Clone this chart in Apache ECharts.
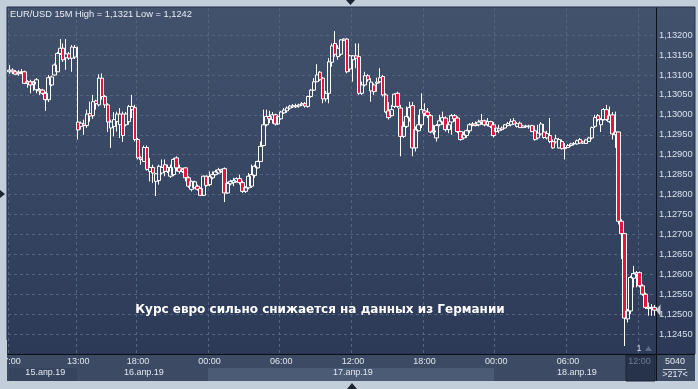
<!DOCTYPE html>
<html><head><meta charset="utf-8">
<script src="https://cdn.jsdelivr.net/npm/echarts/dist/echarts.min.js"></script>
<style>html,body{margin:0;padding:0;background:#c3cedb}#c{width:698px;height:389px}</style>
</head><body><div id="c"></div>
<script>
// ---- data ----
const daySegments = [['2019-04-15','07:00',23],['2019-04-16','13:00',44],['2019-04-17','00:00',96],['2019-04-18','00:00',54]];
const tickTimes = ['2019-04-15 07:00','2019-04-16 13:00','2019-04-16 18:00','2019-04-17 00:00','2019-04-17 06:00','2019-04-17 12:00','2019-04-17 18:00','2019-04-18 00:00','2019-04-18 06:00','2019-04-18 12:00'];
const currentBarTime = '2019-04-18 12:00';
const dateLabelTimes = ['2019-04-15 10:00','2019-04-16 18:30','2019-04-17 12:00','2019-04-18 06:45'];
const dateLabels = ['15.апр.19','16.апр.19','17.апр.19','18.апр.19'];
const priceTickTop = 1.1320;
const symbolName = 'EUR/USD 15M';
const barsInfo = ['5040', '>217<'];

const opens = [
1.13108,1.13112,1.13108,1.13103,1.13106,1.13108,1.13079,1.13083,1.13077,1.13063,
1.13063,1.13062,1.13054,1.13038,1.13075,1.13100,1.13108,1.13154,1.13167,1.13143,
1.13153,1.13142,1.13145,1.12982,1.12971,1.12977,1.12973,1.13003,1.12998,1.13035,
1.13025,1.13092,1.13046,1.13025,1.12967,1.12971,1.12983,1.12975,1.13002,1.12975,
1.12983,1.13013,1.13018,1.12938,1.12892,1.12883,1.12918,1.12858,1.12868,1.12833,
1.12835,1.12854,1.12875,1.12858,1.12846,1.12850,1.12892,1.12867,1.12858,1.12867,
1.12842,1.12813,1.12817,1.12821,1.12815,1.12798,1.12846,1.12825,1.12842,1.12850,
1.12854,1.12858,1.12865,1.12804,1.12827,1.12830,1.12833,1.12840,1.12830,1.12808,
1.12817,1.12821,1.12848,1.12867,1.12883,1.12923,1.12975,1.12996,1.12988,1.13000,
1.12977,1.12990,1.13005,1.13010,1.13017,1.13020,1.13023,1.13022,1.13025,1.13028,
1.13021,1.13046,1.13062,1.13083,1.13107,1.13092,1.13040,1.13054,1.13132,1.13179,
1.13146,1.13152,1.13187,1.13190,1.13115,1.13138,1.13148,1.13146,1.13054,1.13075,
1.13098,1.13060,1.13075,1.13079,1.13083,1.13096,1.13050,1.13010,1.12998,1.13021,
1.13054,1.13017,1.12946,1.12971,1.12992,1.13023,1.12917,1.12960,1.12975,1.13010,
1.13007,1.12998,1.12957,1.12942,1.12975,1.12982,1.12992,1.12963,1.12982,1.12998,
1.12992,1.12958,1.12942,1.12948,1.12960,1.12975,1.12977,1.12975,1.12982,1.12985,
1.12975,1.12983,1.12975,1.12958,1.12960,1.12967,1.12967,1.12973,1.12975,1.12985,
1.12971,1.12979,1.12968,1.12972,1.12970,1.12973,1.12960,1.12942,1.12952,1.12957,
1.12942,1.12948,1.12933,1.12932,1.12917,1.12933,1.12915,1.12918,1.12923,1.12927,
1.12927,1.12938,1.12929,1.12928,1.12933,1.12942,1.12971,1.12998,1.12975,1.12988,
1.13013,1.12983,1.13000,1.12950,1.12957,1.12733,1.12702,1.12488,1.12508,1.12590,
1.12600,1.12604,1.12571,1.12550,1.12517,1.12515,1.12517];

const closes = [
1.13112,1.13108,1.13102,1.13106,1.13108,1.13079,1.13083,1.13075,1.13082,1.13088,
1.13060,1.13054,1.13038,1.13093,1.13095,1.13125,1.13154,1.13167,1.13138,1.13153,
1.13142,1.13170,1.13169,1.12962,1.12979,1.12973,1.13002,1.12997,1.13033,1.13028,
1.13092,1.13046,1.13025,1.12982,1.12982,1.12988,1.13002,1.13002,1.12948,1.13002,
1.13021,1.13021,1.12938,1.12892,1.12888,1.12918,1.12863,1.12868,1.12854,1.12852,
1.12871,1.12868,1.12858,1.12868,1.12868,1.12888,1.12867,1.12858,1.12863,1.12842,
1.12821,1.12833,1.12832,1.12813,1.12798,1.12846,1.12823,1.12845,1.12850,1.12857,
1.12862,1.12862,1.12804,1.12828,1.12833,1.12835,1.12840,1.12830,1.12808,1.12817,
1.12846,1.12850,1.12871,1.12883,1.12921,1.12975,1.12996,1.12990,1.13000,1.12977,
1.12996,1.13007,1.13012,1.13017,1.13022,1.13023,1.13020,1.13025,1.13028,1.13022,
1.13046,1.13062,1.13083,1.13100,1.13088,1.13040,1.13054,1.13133,1.13173,1.13152,
1.13167,1.13188,1.13190,1.13108,1.13148,1.13148,1.13142,1.13054,1.13075,1.13098,
1.13088,1.13082,1.13058,1.13082,1.13093,1.13050,1.13007,1.12993,1.13013,1.13052,
1.13021,1.12946,1.12971,1.12996,1.13018,1.12917,1.12963,1.12975,1.13013,1.13004,
1.12998,1.12957,1.12960,1.12973,1.12985,1.12993,1.12963,1.12975,1.12998,1.12990,
1.12958,1.12938,1.12950,1.12960,1.12975,1.12977,1.12973,1.12982,1.12985,1.12975,
1.12983,1.12971,1.12948,1.12967,1.12965,1.12963,1.12975,1.12978,1.12983,1.12977,
1.12978,1.12968,1.12972,1.12970,1.12972,1.12958,1.12938,1.12954,1.12977,1.12943,
1.12953,1.12933,1.12917,1.12940,1.12938,1.12915,1.12918,1.12923,1.12927,1.12928,
1.12935,1.12929,1.12932,1.12937,1.12942,1.12968,1.12993,1.12988,1.12988,1.13013,
1.12988,1.12998,1.12952,1.12957,1.12733,1.12702,1.12490,1.12508,1.12592,1.12602,
1.12604,1.12571,1.12550,1.12517,1.12514,1.12517,1.12510];

const lows = [
1.13103,1.13102,1.13100,1.13098,1.13102,1.13077,1.13068,1.13054,1.13060,1.13054,
1.13050,1.13050,1.13010,1.13032,1.13072,1.13098,1.13107,1.13150,1.13133,1.13113,
1.13138,1.13108,1.13140,1.12938,1.12963,1.12950,1.12967,1.12983,1.12990,1.13013,
1.13021,1.13038,1.13017,1.12957,1.12917,1.12946,1.12958,1.12942,1.12932,1.12971,
1.12975,1.12992,1.12933,1.12888,1.12875,1.12882,1.12860,1.12833,1.12829,1.12796,
1.12825,1.12850,1.12846,1.12854,1.12842,1.12846,1.12858,1.12852,1.12854,1.12833,
1.12817,1.12808,1.12815,1.12810,1.12796,1.12796,1.12820,1.12821,1.12838,1.12848,
1.12852,1.12855,1.12781,1.12802,1.12823,1.12821,1.12830,1.12825,1.12804,1.12804,
1.12813,1.12817,1.12842,1.12865,1.12882,1.12921,1.12971,1.12979,1.12978,1.12973,
1.12975,1.12988,1.13002,1.13005,1.13013,1.13017,1.13017,1.13018,1.13022,1.13018,
1.13018,1.13043,1.13060,1.13082,1.13085,1.13029,1.13033,1.13029,1.13121,1.13146,
1.13138,1.13148,1.13185,1.13104,1.13108,1.13083,1.13117,1.13050,1.13050,1.13071,
1.13083,1.13033,1.13050,1.13058,1.13079,1.13046,1.13004,1.12988,1.12996,1.13017,
1.13017,1.12896,1.12942,1.12967,1.12983,1.12896,1.12908,1.12958,1.12967,1.12996,
1.12992,1.12954,1.12950,1.12933,1.12971,1.12975,1.12958,1.12954,1.12950,1.12983,
1.12954,1.12935,1.12938,1.12942,1.12954,1.12971,1.12971,1.12971,1.12975,1.12971,
1.12971,1.12967,1.12943,1.12950,1.12954,1.12960,1.12965,1.12971,1.12971,1.12975,
1.12968,1.12967,1.12967,1.12967,1.12965,1.12957,1.12935,1.12938,1.12948,1.12940,
1.12938,1.12929,1.12915,1.12928,1.12915,1.12913,1.12888,1.12917,1.12920,1.12923,
1.12925,1.12927,1.12927,1.12927,1.12932,1.12938,1.12967,1.12983,1.12957,1.12985,
1.12985,1.12979,1.12938,1.12917,1.12725,1.12638,1.12420,1.12479,1.12500,1.12567,
1.12567,1.12567,1.12546,1.12513,1.12496,1.12496,1.12496];

const highs = [
1.13125,1.13117,1.13112,1.13112,1.13115,1.13111,1.13087,1.13088,1.13085,1.13092,
1.13067,1.13065,1.13058,1.13100,1.13098,1.13129,1.13158,1.13190,1.13179,1.13190,
1.13158,1.13175,1.13175,1.13171,1.12983,1.12988,1.13013,1.13033,1.13050,1.13038,
1.13102,1.13104,1.13050,1.13029,1.12988,1.13007,1.13008,1.13017,1.13008,1.13007,
1.13025,1.13050,1.13025,1.12942,1.12896,1.12923,1.12923,1.12892,1.12875,1.12854,
1.12875,1.12888,1.12888,1.12875,1.12875,1.12892,1.12896,1.12875,1.12867,1.12868,
1.12846,1.12835,1.12835,1.12825,1.12818,1.12848,1.12848,1.12858,1.12858,1.12862,
1.12867,1.12865,1.12868,1.12832,1.12837,1.12842,1.12843,1.12850,1.12835,1.12821,
1.12854,1.12875,1.12875,1.12885,1.12933,1.13013,1.13013,1.13010,1.13007,1.13003,
1.13000,1.13010,1.13017,1.13021,1.13025,1.13027,1.13028,1.13028,1.13032,1.13032,
1.13048,1.13065,1.13092,1.13127,1.13110,1.13095,1.13060,1.13142,1.13179,1.13210,
1.13175,1.13190,1.13192,1.13192,1.13150,1.13150,1.13179,1.13179,1.13083,1.13108,
1.13102,1.13092,1.13079,1.13093,1.13117,1.13100,1.13054,1.13032,1.13025,1.13054,
1.13058,1.13025,1.12983,1.13021,1.13033,1.13032,1.12971,1.13000,1.13054,1.13029,
1.13017,1.13002,1.12975,1.12977,1.13000,1.13008,1.12996,1.12983,1.13002,1.13002,
1.12996,1.12960,1.12958,1.12963,1.12979,1.12982,1.12983,1.12988,1.13002,1.12988,
1.12992,1.12985,1.12982,1.12975,1.12975,1.12971,1.12977,1.12982,1.12990,1.12992,
1.12982,1.12983,1.12975,1.12975,1.12975,1.12975,1.12973,1.12975,1.12982,1.12977,
1.12960,1.12992,1.12938,1.12950,1.12942,1.12938,1.12929,1.12927,1.12930,1.12932,
1.12938,1.12942,1.12935,1.12940,1.12945,1.12971,1.13000,1.13002,1.12992,1.13017,
1.13025,1.13021,1.13007,1.13008,1.12958,1.12738,1.12704,1.12513,1.12596,1.12621,
1.12608,1.12607,1.12575,1.12554,1.12529,1.12525,1.12523];

const annotation = 'Курс евро сильно снижается на данных из Германии';

// ---- build ----
const categories = [];
daySegments.forEach(([d, t, n]) => {
  const [h, m] = t.split(':').map(Number);
  for (let k = 0; k < n; k++) {
    const mins = h * 60 + m + 15 * k;
    categories.push(d + ' ' + String(Math.floor(mins / 60)).padStart(2, '0') + ':' + String(mins % 60).padStart(2, '0'));
  }
});
const ohlc = categories.map((_, i) => [opens[i], closes[i], lows[i], highs[i]]);
const comma = (v, d) => v.toFixed(d).replace('.', ',');
const lastClose = closes[closes.length - 1];
const titleText = symbolName + ' High = ' + comma(Math.max(...highs), 4) + ' Low = ' + comma(Math.min(...lows), 4);

const Y_MIN = 1.1240, Y_MAX = 1.13268, Y_STEP = 0.0005;
const FONT = '"Liberation Sans", Arial, sans-serif';
const TXT = '#e0e7f0';
const GRIDC = '#55647d';
// one colour per horizontal grid line: visible up to the top labelled tick, hidden above it
const hLineColors = [];
for (let v = Y_MIN; v <= Y_MAX + 1e-9; v += Y_STEP) hLineColors.push(v <= priceTickTop + 1e-7 ? GRIDC : 'rgba(0,0,0,0)');
hLineColors.push('rgba(0,0,0,0)');

const chart = echarts.init(document.getElementById('c'), null, {renderer: 'canvas'});

function graphics(priceY) {
  const g = [
    {type: 'rect', z: -20, silent: true, shape: {x: 0, y: 0, width: 698, height: 389}, style: {fill: '#c3cedb'}},
    {type: 'rect', z: -10, silent: true, shape: {x: 7, y: 7, width: 688, height: 347},
      style: {fill: new echarts.graphic.LinearGradient(0, 0, 0, 1, [{offset: 0, color: '#42526d'}, {offset: 1, color: '#2c3a57'}]), stroke: '#26314a', lineWidth: 1}},
    {type: 'rect', z: -10, silent: true, shape: {x: 7, y: 354, width: 688, height: 27}, style: {fill: '#3d4a63'}},
    {type: 'rect', z: -9, silent: true, shape: {x: 9, y: 368, width: 68, height: 13}, style: {fill: '#37445d'}},
    {type: 'rect', z: -9, silent: true, shape: {x: 208, y: 368, width: 286, height: 13}, style: {fill: '#4b5a75'}},
    {type: 'rect', z: -9, silent: true, shape: {x: 626, y: 355, width: 29, height: 26}, style: {fill: '#27334b', stroke: '#1c2536', lineWidth: 1}},
    {type: 'line', z: 5, silent: true, shape: {x1: 656.5, y1: 354, x2: 656.5, y2: 381}, style: {stroke: '#0c1018', lineWidth: 1}},
    {type: 'line', z: 5, silent: true, shape: {x1: 656, y1: 354.5, x2: 695, y2: 354.5}, style: {stroke: '#0c1018', lineWidth: 1}},
    {type: 'line', z: 5, silent: true, shape: {x1: 663, y1: 369.5, x2: 686, y2: 369.5}, style: {stroke: '#c8d0dc', lineWidth: 1}},
    {type: 'text', z: 5, silent: true, style: {text: barsInfo[0], x: 675, y: 362, textAlign: 'center', textVerticalAlign: 'middle', align: 'center', verticalAlign: 'middle', fill: TXT, font: '9px ' + FONT}},
    {type: 'text', z: 5, silent: true, style: {text: barsInfo[1], x: 675, y: 375, textAlign: 'center', textVerticalAlign: 'middle', align: 'center', verticalAlign: 'middle', fill: TXT, font: '9px ' + FONT}},
    {type: 'text', z: 5, silent: true, style: {text: titleText, x: 10, y: 14, textVerticalAlign: 'middle', verticalAlign: 'middle', fill: '#e8edf4', font: '9.3px ' + FONT}},
    {type: 'text', z: 5, silent: true, style: {text: annotation, x: 320, y: 310, textAlign: 'center', textVerticalAlign: 'middle', align: 'center', verticalAlign: 'middle', fill: '#ffffff', font: 'bold 12px "DejaVu Sans", sans-serif'}},
    {type: 'text', z: 5, silent: true, style: {text: '1', x: 639, y: 349, textAlign: 'center', textVerticalAlign: 'middle', align: 'center', verticalAlign: 'middle', fill: '#d5dbe5', font: '9px ' + FONT}},
    {type: 'polygon', z: 5, silent: true, shape: {points: [[645, 351], [652, 351], [648.5, 346]]}, style: {fill: '#5d6c86'}},
    {type: 'rect', z: 50, silent: true, shape: {x: 0, y: 340, width: 7, height: 49}, style: {fill: '#c3cedb'}},
    {type: 'polygon', z: 50, silent: true, shape: {points: [[346, 0], [355, 0], [350.5, 5]]}, style: {fill: '#1b2232'}},
    {type: 'polygon', z: 50, silent: true, shape: {points: [[347, 389], [357, 389], [352, 383]]}, style: {fill: '#1b2232'}},
    {type: 'polygon', z: 50, silent: true, shape: {points: [[0, 190], [0, 198], [5, 194]]}, style: {fill: '#1b2232'}}
  ];
  if (priceY != null) {
    g.push({type: 'polygon', z: 60, silent: true, shape: {points: [[656, priceY], [660.5, priceY - 6], [660.5, priceY + 6]]}, style: {fill: '#cbd3de'}});
  }
  return g;
}

const option = {
  backgroundColor: '#c3cedb',
  animation: false,
  grid: {left: 8, right: 42, top: 8, bottom: 35, containLabel: false, outerBoundsMode: 'none'},
  xAxis: [{
    type: 'category', data: categories, boundaryGap: true,
    axisLine: {show: true, lineStyle: {color: '#0c1018', width: 1}},
    axisTick: {show: false},
    axisLabel: {
      interval: (i, v) => tickTimes.includes(v),
      formatter: (v) => v === currentBarTime ? '{dim|' + v.slice(11) + '}' : v.slice(11),
      color: TXT, fontSize: 9, fontFamily: FONT, margin: 3, hideOverlap: false,
      rich: {dim: {color: '#6e7b92', fontSize: 9, fontFamily: FONT}}
    },
    splitLine: {show: true, interval: (i, v) => tickTimes.includes(v), lineStyle: {color: GRIDC, type: [3, 3], width: 1}}
  }, {
    type: 'category', data: categories, boundaryGap: true, position: 'bottom', offset: 11,
    axisLine: {show: false}, axisTick: {show: false}, splitLine: {show: false},
    axisLabel: {
      interval: (i, v) => dateLabelTimes.includes(v),
      formatter: (v) => dateLabels[dateLabelTimes.indexOf(v)] || '',
      color: TXT, fontSize: 9, fontFamily: FONT, margin: 3, hideOverlap: false
    }
  }],
  yAxis: {
    type: 'value', position: 'right', min: Y_MIN, max: Y_MAX, interval: Y_STEP,
    axisLine: {show: true, lineStyle: {color: '#0c1018', width: 1}},
    axisTick: {show: false},
    axisLabel: {color: '#d8e0ec', fontSize: 9.3, fontFamily: FONT, margin: 3, showMinLabel: false, showMaxLabel: false,
      formatter: (v) => v > priceTickTop + 1e-7 ? '' : comma(v, 5)},
    splitLine: {show: true, lineStyle: {color: hLineColors, type: [3, 3], width: 1}}
  },
  series: [{
    type: 'candlestick', data: ohlc, barWidth: 4,
    itemStyle: {color: 'rgba(0,0,0,0)', color0: '#e8123c', borderColor: '#ffffff', borderColor0: '#ffffff', borderWidth: 1},
    markLine: {
      silent: true, symbol: ['none', 'none'], animation: false,
      lineStyle: {width: 0, opacity: 0},
      data: [{yAxis: lastClose}],
      label: {show: true, position: 'end', distance: 4, formatter: () => comma(lastClose, 5),
        backgroundColor: '#cbd3de', color: '#28344c', fontSize: 9.3, fontFamily: FONT, padding: [2, 2, 1, 1]}
    }
  }],
  graphic: graphics(null)
};
chart.setOption(option);
const py = chart.convertToPixel({yAxisIndex: 0}, lastClose);
chart.setOption({graphic: graphics(py)}, {replaceMerge: ['graphic']});
</script></body></html>
